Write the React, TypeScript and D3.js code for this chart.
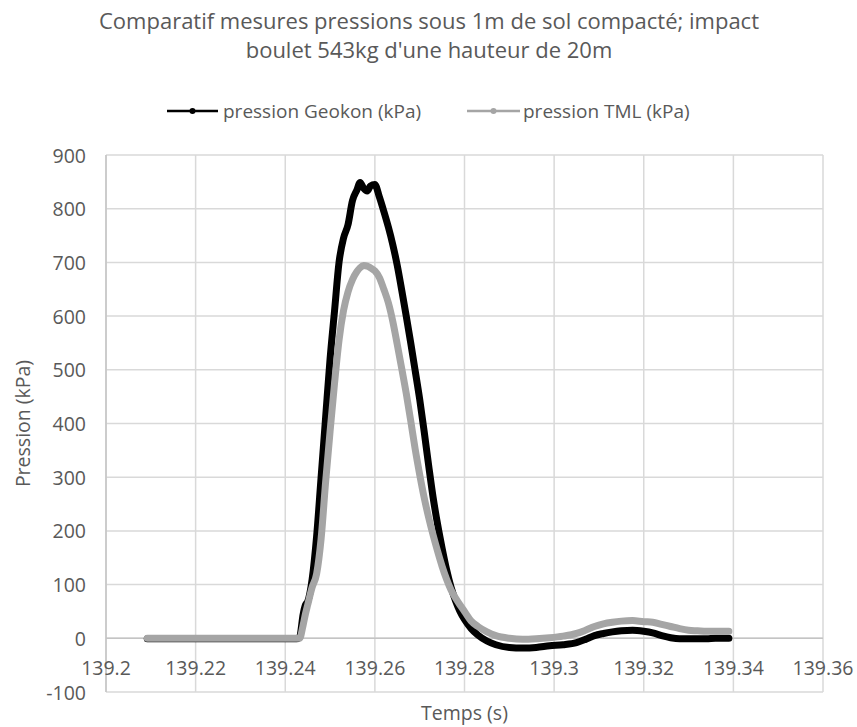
import * as d3 from 'd3';

// time (s), shared by both series
const timeS = [
  139.2092, 139.22, 139.23, 139.24, 139.2425, 139.2432, 139.244, 139.2445, 139.245, 139.246,
  139.247, 139.248, 139.249, 139.25, 139.251, 139.252, 139.253, 139.254, 139.255, 139.256,
  139.2567, 139.2575, 139.2583, 139.259, 139.26, 139.261, 139.262, 139.263, 139.264, 139.265,
  139.266, 139.267, 139.268, 139.269, 139.27, 139.271, 139.272, 139.273, 139.274, 139.275,
  139.276, 139.277, 139.278, 139.279, 139.28, 139.2815, 139.283, 139.285, 139.287, 139.29,
  139.293, 139.296, 139.299, 139.302, 139.305, 139.307, 139.309, 139.311, 139.313, 139.315,
  139.3175, 139.32, 139.322, 139.324, 139.326, 139.328, 139.33, 139.332, 139.334, 139.336,
  139.339,
];

const geokonKPa = [
  -1, -1, -1, -1, -1, 2, 45, 62, 68, 110,
  190, 300, 410, 520, 610, 700, 745, 770, 815, 835,
  849, 838, 833, 842, 845, 822, 795, 766, 733, 694,
  648, 600, 550, 498, 445, 385, 322, 262, 212, 168,
  128, 95, 70, 50, 35, 18, 6, -5, -12, -17,
  -18, -17, -14, -12, -8, -2, 5, 9, 12, 14,
  15, 13, 10, 5, 1, -1, -1, -1, -1, 0,
  0,
];

const tmlKPa = [
  0, 0, 0, 0, 0, 0, 25, 45, 62, 95,
  120, 185, 290, 385, 475, 555, 610, 645, 668, 683,
  690, 694, 693, 690, 684, 672, 650, 625, 590, 547,
  502, 456, 405, 352, 305, 262, 225, 192, 162, 134,
  110, 90, 75, 62, 50, 32, 22, 12, 5, 0,
  -2, -1, 1, 4, 9, 15, 22, 27, 30, 32,
  33, 31, 30, 26, 22, 18, 15, 14, 13, 13,
  13,
];

const xTicks = [139.2, 139.22, 139.24, 139.26, 139.28, 139.3, 139.32, 139.34, 139.36];
const yTicks = [-100, 0, 100, 200, 300, 400, 500, 600, 700, 800, 900];

const titleLines = ['Comparatif mesures pressions sous 1m de sol compacté; impact', "boulet 543kg d'une hauteur de 20m"];
const seriesNames = ['pression Geokon (kPa)', 'pression TML (kPa)'];
const seriesColors = ['#000000', '#a5a5a5'];

const width = 857;
const height = 727;
const font = "'Open Sans', sans-serif";
const textColor = '#595959';

export default function App() {
  const x = d3.scaleLinear().domain([139.2, 139.36]).range([106, 823]);
  const y = d3.scaleLinear().domain([-100, 900]).range([692, 155]);

  const line = d3
    .line<number>()
    .x((_, i) => x(timeS[i]))
    .curve(d3.curveMonotoneX);

  const paths = [geokonKPa, tmlKPa].map((vals) => line.y((v) => y(v))(vals));

  const legend = [
    { x0: 167, x1: 218, tx: 223 },
    { x0: 467, x1: 520, tx: 523 },
  ];

  return (
    <svg width={width} height={height} style={{ position: 'absolute', left: 0, top: 0, background: '#fff' }} fontFamily={font}>
      <rect width={width} height={height} fill="#fff" />
      {/* title */}
      {titleLines.map((t, i) => (
        <text key={i} x={429} y={29 + i * 29} textAnchor="middle" fontSize={22} fill={textColor}>
          {t}
        </text>
      ))}
      {/* legend */}
      {legend.map((l, i) => (
        <g key={i}>
          <line x1={l.x0} x2={l.x1} y1={111} y2={111} stroke={seriesColors[i]} strokeWidth={2.5} />
          <circle cx={(l.x0 + l.x1) / 2} cy={111} r={3} fill={seriesColors[i]} />
          <text x={l.tx} y={111} dominantBaseline="central" fontSize={19} fill={textColor}>
            {seriesNames[i]}
          </text>
        </g>
      ))}
      {/* grid */}
      {yTicks.map((t) => (
        <line key={'gy' + t} x1={x(139.2)} x2={x(139.36)} y1={y(t)} y2={y(t)} stroke="#d9d9d9" strokeWidth={1.5} />
      ))}
      {xTicks.map((t) => (
        <line key={'gx' + t} x1={x(t)} x2={x(t)} y1={y(-100)} y2={y(900)} stroke="#d9d9d9" strokeWidth={1.5} />
      ))}
      {/* axes */}
      <line x1={x(139.2)} x2={x(139.2)} y1={y(-100)} y2={y(900)} stroke="#c4c4c4" strokeWidth={1.5} />
      <line x1={x(139.2)} x2={x(139.36)} y1={y(0)} y2={y(0)} stroke="#c4c4c4" strokeWidth={1.5} />
      {/* series */}
      {paths.map((d, i) => (
        <path key={i} d={d ?? ''} fill="none" stroke={seriesColors[i]} strokeWidth={7} strokeLinejoin="round" strokeLinecap="round" />
      ))}
      {/* y tick labels */}
      {yTicks.map((t) => (
        <text key={'ty' + t} x={86} y={y(t)} textAnchor="end" dominantBaseline="central" fontSize={19.5} fill={textColor}>
          {t}
        </text>
      ))}
      {/* x tick labels */}
      {xTicks.map((t) => (
        <text key={'tx' + t} x={x(t)} y={y(0) + 29} textAnchor="middle" dominantBaseline="central" fontSize={19.5} fill={textColor}>
          {d3.format('~g')(t)}
        </text>
      ))}
      {/* axis titles */}
      <text x={464.5} y={712} textAnchor="middle" dominantBaseline="central" fontSize={19.5} fill={textColor}>
        Temps (s)
      </text>
      <text
        transform={`translate(22,${(y(900) + y(-100)) / 2}) rotate(-90)`}
        textAnchor="middle"
        dominantBaseline="central"
        fontSize={19.5}
        fill={textColor}
      >
        Pression (kPa)
      </text>
    </svg>
  );
}
